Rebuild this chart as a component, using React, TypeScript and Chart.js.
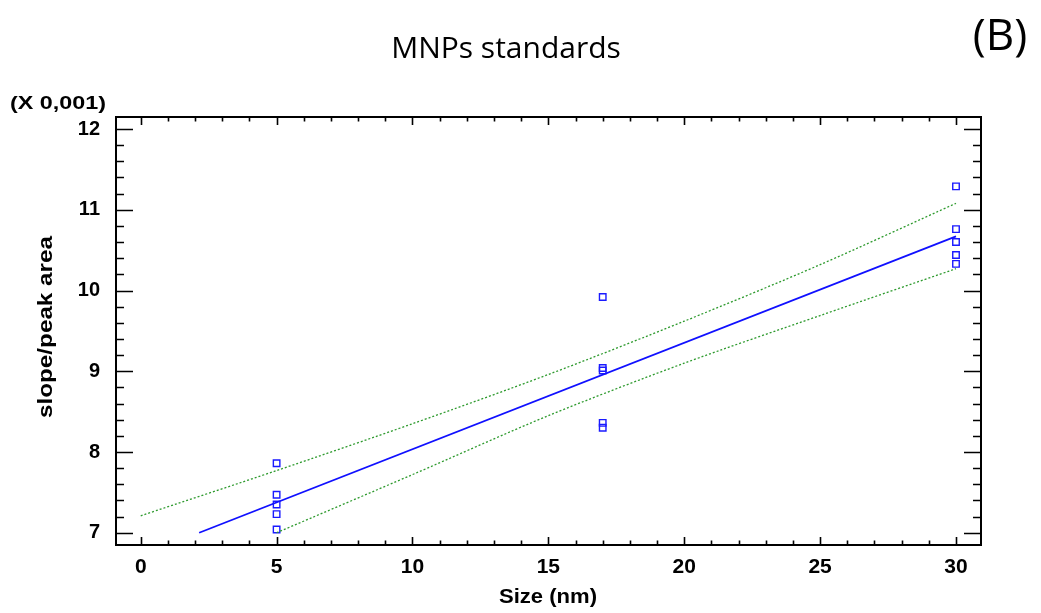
import React, { useEffect, useRef } from "react";
import { Chart, registerables } from "chart.js";

Chart.register(...registerables);

const sizes = [5, 5, 5, 5, 5, 17, 17, 17, 17, 17, 30, 30, 30, 30, 30];
const ratios = [7.86, 7.47, 7.35, 7.23, 7.04, 9.92, 9.04, 9.01, 8.36, 8.3, 11.29, 10.76, 10.6, 10.44, 10.33];

const fitX = [2.15, 30];
const fitY = [7.0, 10.67];

const upperX = [0, 5, 10, 15, 20, 25, 30];
const upperY = [7.21, 7.77, 8.35, 8.96, 9.62, 10.32, 11.08];

const lowerX = [5, 10, 15, 20, 25, 30];
const lowerY = [7.0, 7.72, 8.45, 9.1, 9.69, 10.27];

const xTicks = [0, 5, 10, 15, 20, 25, 30];
const yTicks = [7, 8, 9, 10, 11, 12];

const title = "MNPs standards";
const panelLabel = "(B)";
const yMultiplier = "(X 0,001)";
const xTitle = "Size (nm)";
const yTitle = "slope/peak area";

const BOLD = '"Liberation Sans", Arial, sans-serif';

function stretchText(ctx: CanvasRenderingContext2D, text: string, cx: number, cy: number, target: number) {
  const w = ctx.measureText(text).width;
  ctx.save();
  ctx.translate(cx, cy);
  ctx.scale(target / w, 1);
  ctx.textAlign = "center";
  ctx.fillText(text, 0, 0);
  ctx.restore();
}

const decorPlugin = {
  id: "decor",
  afterDraw(chart: any) {
    const ctx = chart.ctx;
    const xs = chart.scales.x;
    const ys = chart.scales.y;
    const { left, right, top, bottom } = chart.chartArea;
    ctx.save();
    ctx.strokeStyle = "#000";
    ctx.lineWidth = 2;
    ctx.strokeRect(left, top, right - left, bottom - top);
    ctx.lineWidth = 1.6;
    ctx.beginPath();
    for (let v = 0; v <= 30; v += 1) {
      const px = Math.round(xs.getPixelForValue(v)) + 0.5;
      const len = v % 5 === 0 ? 8 : 4.5;
      ctx.moveTo(px, bottom);
      ctx.lineTo(px, bottom - len);
      ctx.moveTo(px, top);
      ctx.lineTo(px, top + len);
    }
    for (let i = 0; i <= 25; i++) {
      const v = 7 + i * 0.2;
      const py = Math.round(ys.getPixelForValue(v)) + 0.5;
      const len = i % 5 === 0 ? 17 : 8;
      ctx.moveTo(left, py);
      ctx.lineTo(left + len, py);
      ctx.moveTo(right, py);
      ctx.lineTo(right - len, py);
    }
    ctx.stroke();

    ctx.fillStyle = "#000";
    ctx.textBaseline = "middle";
    ctx.textAlign = "center";
    ctx.font = '30px "Open Sans", sans-serif';
    ctx.fillText(title, 506, 49);
    ctx.font = '44px "Open Sans", sans-serif';
    ctx.fillText(panelLabel, 1000, 37);

    ctx.font = `bold 19px ${BOLD}`;
    stretchText(ctx, yMultiplier, 58, 104, 96);

    ctx.font = `bold 20px ${BOLD}`;
    stretchText(ctx, xTitle, 548, 597, 98);

    ctx.translate(46, 327);
    ctx.rotate(-Math.PI / 2);
    stretchText(ctx, yTitle, 0, 0, 182);
    ctx.restore();
  },
};

export default function App() {
  const ref = useRef<HTMLCanvasElement>(null);

  useEffect(() => {
    if (!ref.current) return;
    const toPts = (xa: number[], ya: number[]) => xa.map((x, i) => ({ x, y: ya[i] }));
    const chart = new Chart(ref.current, {
      type: "scatter",
      data: {
        datasets: [
          {
            type: "line",
            data: toPts(upperX, upperY),
            borderColor: "#2e9a2e",
            borderWidth: 1.3,
            borderDash: [2, 2],
            pointRadius: 0,
            fill: false,
            tension: 0.3,
          },
          {
            type: "line",
            data: toPts(lowerX, lowerY),
            borderColor: "#2e9a2e",
            borderWidth: 1.3,
            borderDash: [2, 2],
            pointRadius: 0,
            fill: false,
            tension: 0.3,
          },
          {
            type: "line",
            data: toPts(fitX, fitY),
            borderColor: "#1010ff",
            borderWidth: 1.8,
            pointRadius: 0,
            fill: false,
          },
          {
            type: "scatter",
            data: toPts(sizes, ratios),
            pointStyle: "rect",
            pointRadius: 4.6,
            borderColor: "#1a1aff",
            backgroundColor: "rgba(255,255,255,0)",
            borderWidth: 1.4,
          },
        ],
      },
      options: {
        animation: false,
        responsive: false,
        devicePixelRatio: 1,
        layout: { padding: { left: 0, right: 60, top: 117, bottom: 0 } },
        plugins: { legend: { display: false }, tooltip: { enabled: false } },
        scales: {
          x: {
            type: "linear",
            min: -0.91,
            max: 30.92,
            afterBuildTicks: (s: any) => {
              s.ticks = xTicks.map((v) => ({ value: v }));
            },
            afterFit: (s: any) => {
              s.height = 68;
            },
            grid: { display: false, drawTicks: false },
            border: { display: false },
            ticks: {
              padding: 10,
              color: "#000",
              font: { family: BOLD, size: 21, weight: "bold" },
              maxRotation: 0,
            },
          },
          y: {
            type: "linear",
            min: 6.848,
            max: 12.149,
            afterBuildTicks: (s: any) => {
              s.ticks = yTicks.map((v) => ({ value: v }));
            },
            afterFit: (s: any) => {
              s.width = 116;
            },
            grid: { display: false, drawTicks: false },
            border: { display: false },
            ticks: {
              padding: 16,
              color: "#000",
              font: { family: BOLD, size: 20, weight: "bold" },
            },
          },
        },
      },
      plugins: [decorPlugin],
    } as any);
    return () => chart.destroy();
  }, []);

  return (
    <div style={{ position: "fixed", left: 0, top: 0, width: 1041, height: 613, background: "#fff" }}>
      <canvas ref={ref} width={1041} height={613} style={{ width: 1041, height: 613 }} />
    </div>
  );
}
